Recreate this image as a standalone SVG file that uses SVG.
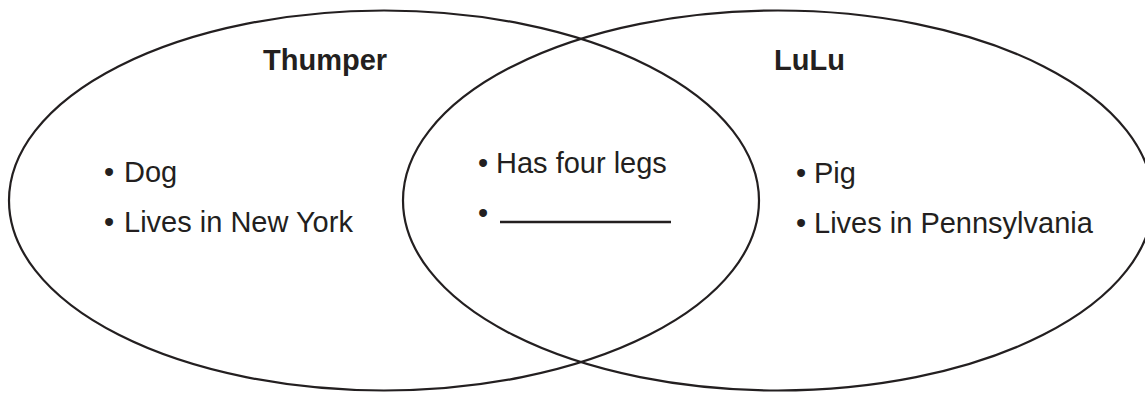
<svg xmlns="http://www.w3.org/2000/svg" width="1145" height="393" viewBox="0 0 1145 393">
<style>
.set{fill:none;stroke:#231f20;stroke-width:2.2}
.t{font-family:"Liberation Sans",Arial,Helvetica,sans-serif;font-size:29px;fill:#231f20}
.h{font-weight:bold;font-size:29px}
</style>
<rect width="1145" height="393" fill="#ffffff"/>
<g id="set-thumper">
<ellipse class="set" cx="384" cy="200.5" rx="375" ry="190"/>
<text class="t h" x="263" y="70">Thumper</text>
<text class="t" x="104" y="182">•<tspan x="124">Dog</tspan></text>
<text class="t" x="104" y="232">•<tspan x="124">Lives in New York</tspan></text>
</g>
<g id="set-lulu">
<ellipse class="set" cx="778" cy="200.5" rx="375" ry="190"/>
<text class="t h" x="774" y="70">LuLu</text>
<text class="t" x="796" y="183">•<tspan x="814">Pig</tspan></text>
<text class="t" x="796" y="233">•<tspan x="814">Lives in Pennsylvania</tspan></text>
</g>
<g id="set-both">
<text class="t" x="478" y="173">•<tspan x="496">Has four legs</tspan></text>
<text class="t" x="478" y="223">•</text>
<line x1="500" y1="222" x2="671" y2="222" stroke="#231f20" stroke-width="2.5"/>
</g>
<g id="connectors"></g>
</svg>
